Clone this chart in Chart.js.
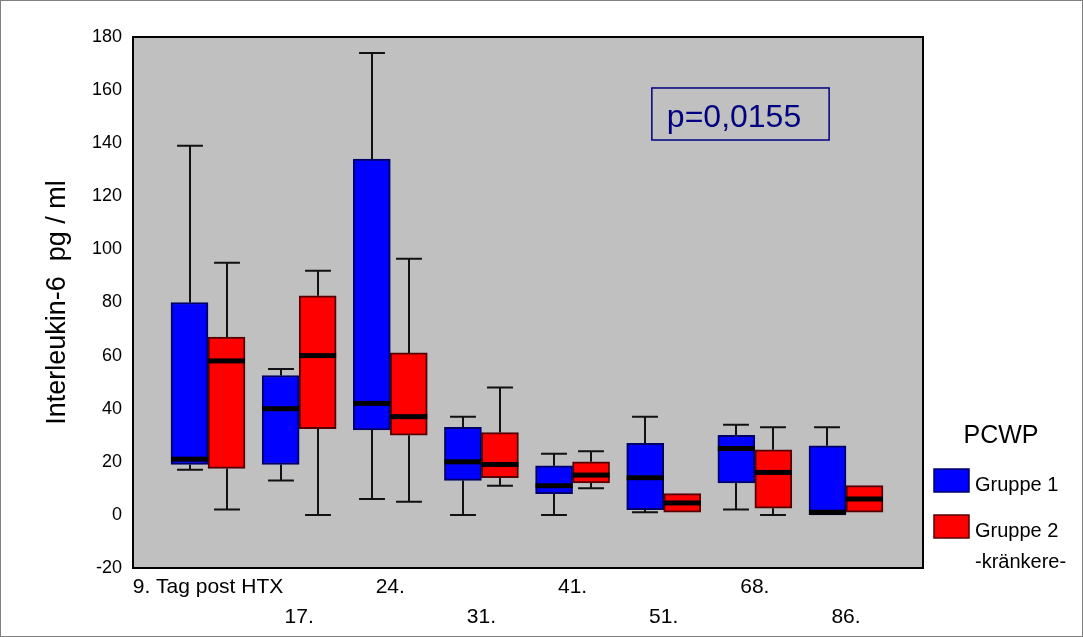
<!DOCTYPE html>
<html>
<head>
<meta charset="utf-8">
<title>Interleukin-6</title>
<script src="https://cdn.jsdelivr.net/npm/chart.js@4/dist/chart.umd.min.js"></script>
<style>
  html, body { margin: 0; padding: 0; background: #ffffff; }
  canvas { display: block; }
</style>
</head>
<body>
<canvas id="chart" width="1083" height="637"></canvas>
<script>
// Days after heart transplantation
const categories = ['9. Tag post HTX', '17.', '24.', '31.', '41.', '51.', '68.', '86.'];
const seriesNames = ['Gruppe 1', 'Gruppe 2'];
const legendTitle = 'PCWP';
const legendNote = '-kränkere-';
const pValueText = 'p=0,0155';
const yTitle = 'Interleukin-6  pg / ml';

// Gruppe 1: whisker low, lower quartile, median, upper quartile, whisker high
const g1Min = [17, 13, 6, 0, 0, 1, 2, 0];
const g1Q1  = [19, 19, 32, 13, 8, 2, 12, 0];
const g1Med = [21, 40, 42, 20, 11, 14, 25, 1];
const g1Q3  = [80, 52.5, 134, 33, 18.5, 27, 30, 26];
const g1Max = [139, 55, 174, 37, 23, 37, 34, 33];

// Gruppe 2 (kränkere)
const g2Min = [2, 0, 5, 11, 10, 1, 0, 1];
const g2Q1  = [17.5, 32.5, 30, 14, 12, 1, 2.5, 1];
const g2Med = [58, 60, 37, 19, 15, 4.5, 16, 6];
const g2Q3  = [67, 82.5, 61, 31, 20, 8, 24.5, 11];
const g2Max = [95, 92, 96.5, 48, 24, 8, 33, 11];

// Y axis tick range
const yMin = -20, yMax = 180, yStep = 20;

const FONT = "'Liberation Sans', Arial, Helvetica, sans-serif";
const stats = [
  { min: g1Min, q1: g1Q1, med: g1Med, q3: g1Q3, max: g1Max },
  { min: g2Min, q1: g2Q1, med: g2Med, q3: g2Q3, max: g2Max }
];
const fills = ['#0000ff', '#ff0000'];
const edges = ['#000066', '#550000'];

function boxes(q1, q3) {
  return categories.map((_, i) => ({ x: i, y: [q1[i], q3[i]] }));
}

const boxPlot = {
  id: 'boxPlot',
  beforeDraw(chart) {
    const { ctx, chartArea: a } = chart;
    ctx.save();
    ctx.fillStyle = '#ffffff';
    ctx.fillRect(0, 0, chart.width, chart.height);
    ctx.strokeStyle = '#808080';
    ctx.lineWidth = 1;
    ctx.strokeRect(0.5, 0.5, chart.width - 1, chart.height - 1);
    ctx.fillStyle = '#c0c0c0';
    ctx.fillRect(a.left, a.top, a.right - a.left, a.bottom - a.top);
    ctx.restore();
  },
  beforeDatasetsDraw(chart) {
    // whiskers with end caps, drawn behind the boxes
    const { ctx } = chart;
    const y = chart.scales.y;
    ctx.save();
    ctx.strokeStyle = '#111111';
    ctx.lineWidth = 2;
    stats.forEach((s, d) => {
      chart.getDatasetMeta(d).data.forEach((bar, i) => {
        const x = Math.round(bar.x) + 0.0;
        const cap = bar.width * 0.7;
        const pairs = [[s.q3[i], s.max[i]], [s.q1[i], s.min[i]]];
        pairs.forEach(([from, to]) => {
          if (from === to) return;
          const p0 = y.getPixelForValue(from);
          const p1 = y.getPixelForValue(to);
          ctx.beginPath();
          ctx.moveTo(x, p0);
          ctx.lineTo(x, p1);
          ctx.moveTo(x - cap / 2, p1);
          ctx.lineTo(x + cap / 2, p1);
          ctx.stroke();
        });
      });
    });
    ctx.restore();
  },
  afterDatasetsDraw(chart) {
    const { ctx, chartArea: a } = chart;
    const xs = chart.scales.x, y = chart.scales.y;
    ctx.save();
    // medians
    ctx.fillStyle = '#000000';
    stats.forEach((s, d) => {
      chart.getDatasetMeta(d).data.forEach((bar, i) => {
        const py = y.getPixelForValue(s.med[i]);
        ctx.fillRect(bar.x - bar.width / 2, py - 2.5, bar.width, 5);
      });
    });
    // plot frame
    ctx.strokeStyle = '#000000';
    ctx.lineWidth = 2;
    ctx.strokeRect(a.left, a.top, a.right - a.left, a.bottom - a.top);

    // p-value annotation
    const bx0 = xs.getPixelForValue(4.87), bx1 = xs.getPixelForValue(6.815);
    const by0 = y.getPixelForValue(160.8), by1 = y.getPixelForValue(141.2);
    ctx.strokeStyle = '#000080';
    ctx.lineWidth = 1.5;
    ctx.strokeRect(bx0, by0, bx1 - bx0, by1 - by0);
    ctx.fillStyle = '#000080';
    ctx.font = '32px ' + FONT;
    ctx.textAlign = 'left';
    ctx.textBaseline = 'alphabetic';
    ctx.fillText(pValueText, bx0 + 15, by0 + 39);

    // legend
    const lx = a.right + 11;
    ctx.fillStyle = '#000000';
    ctx.font = '25px ' + FONT;
    ctx.textAlign = 'center';
    ctx.fillText(legendTitle, a.right + 78, 443);
    ctx.font = '20px ' + FONT;
    ctx.textAlign = 'left';
    const rows = [469, 515];
    seriesNames.forEach((name, d) => {
      const top = rows[d];
      ctx.fillStyle = fills[d];
      ctx.fillRect(lx, top, 35, 23);
      ctx.strokeStyle = edges[d];
      ctx.lineWidth = 1.5;
      ctx.strokeRect(lx, top, 35, 23);
      ctx.fillStyle = '#000000';
      ctx.fillText(name, lx + 41, top + 22);
    });
    ctx.fillText(legendNote, lx + 41, 568);
    ctx.restore();
  }
};

new Chart(document.getElementById('chart'), {
  type: 'bar',
  data: {
    datasets: [
      {
        label: seriesNames[0],
        data: boxes(g1Q1, g1Q3),
        backgroundColor: fills[0],
        borderColor: edges[0],
        borderWidth: 2,
        borderSkipped: false,
        barThickness: 37
      },
      {
        label: seriesNames[1],
        data: boxes(g2Q1, g2Q3),
        backgroundColor: fills[1],
        borderColor: edges[1],
        borderWidth: 2,
        borderSkipped: false,
        barThickness: 37
      }
    ]
  },
  options: {
    responsive: false,
    animation: false,
    devicePixelRatio: 1,
    layout: { padding: { top: 37, right: 160, bottom: 0, left: 0 } },
    plugins: {
      legend: { display: false },
      tooltip: { enabled: false }
    },
    scales: {
      x: {
        type: 'linear',
        offset: false,
        min: -0.823,
        max: 7.845,
        grid: { display: false, drawTicks: false, offset: false },
        border: { display: false },
        afterBuildTicks(scale) {
          scale.ticks = categories.map((_, i) => ({ value: i }));
        },
        afterFit(scale) { scale.height = 69; },
        ticks: {
          autoSkip: false,
          maxRotation: 0,
          minRotation: 0,
          padding: 4,
          color: '#000000',
          font: { family: FONT, size: 21, lineHeight: 30 / 21 },
          callback(value) {
            const i = Math.round(value);
            return i % 2 === 0 ? categories[i] : ['', categories[i]];
          }
        }
      },
      y: {
        type: 'linear',
        min: yMin,
        max: yMax,
        grid: { display: false, drawTicks: false },
        border: { display: false },
        afterFit(scale) { scale.width = 133; },
        ticks: {
          stepSize: yStep,
          padding: 11,
          color: '#000000',
          font: { family: FONT, size: 18 }
        },
        title: {
          display: true,
          text: yTitle,
          color: '#000000',
          font: { family: FONT, size: 27 },
          padding: { top: 41, bottom: 0 }
        }
      }
    }
  },
  plugins: [boxPlot]
});
</script>
</body>
</html>
